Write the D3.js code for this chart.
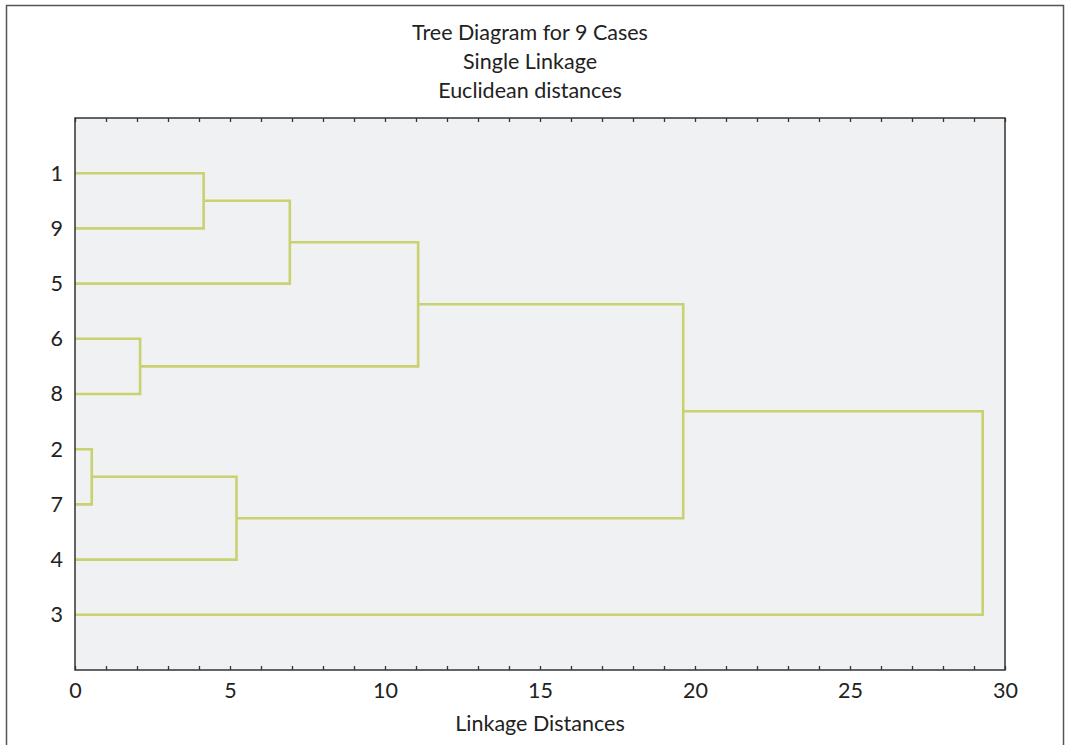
<!DOCTYPE html>
<html><head><meta charset="utf-8">
<script src="https://cdn.jsdelivr.net/npm/d3@7"></script>
<style>body{margin:0;background:#fff}svg{display:block}</style>
</head><body>
<script>
const titleLines = ["Tree Diagram for 9 Cases", "Single Linkage", "Euclidean distances"];
const xAxisTitle = "Linkage Distances";
const leafLabels = ["1", "9", "5", "6", "8", "2", "7", "4", "3"];
// merges: node ids 0..8 are leaves (display order), 9.. are merges in order
const mergeLeft   = [0, 9, 3, 10, 5, 13, 12, 15];
const mergeRight  = [1, 2, 4, 11, 6, 7, 14, 8];
const mergeHeight = [4.15, 6.93, 2.1, 11.07, 0.54, 5.21, 19.62, 29.28];
const xTicks = [0, 5, 10, 15, 20, 25, 30];

const W = 1065, H = 745;
const plot = {l: 75, r: 1005, t: 118, b: 670};
const svg = d3.select("body").append("svg").attr("width", W).attr("height", H);
const font = "Lato, 'Open Sans', sans-serif";
const fs = 21.5;

// outer frame
svg.append("rect").attr("x", 6.5).attr("y", 5.5).attr("width", 1057).attr("height", 760)
  .attr("fill", "#fff").attr("stroke", "#555").attr("stroke-width", 1.5);

const x = d3.scaleLinear().domain([0, 30]).range([plot.l, plot.r]);
const y = d3.scalePoint().domain(leafLabels).range([plot.t, plot.b]).padding(1);

svg.append("rect").attr("x", plot.l).attr("y", plot.t).attr("width", plot.r - plot.l)
  .attr("height", plot.b - plot.t).attr("fill", "#f0f1f3");

// node positions
const nodeX = [], nodeY = [];
leafLabels.forEach((d, i) => { nodeX[i] = 0; nodeY[i] = y(d); });
mergeLeft.forEach((a, k) => {
  const b = mergeRight[k], id = leafLabels.length + k;
  nodeX[id] = mergeHeight[k];
  nodeY[id] = (nodeY[a] + nodeY[b]) / 2;
});

const g = svg.append("g");
mergeLeft.forEach((a, k) => {
  const b = mergeRight[k], h = mergeHeight[k];
  const p = d3.path();
  p.moveTo(x(nodeX[a]), nodeY[a]);
  p.lineTo(x(h), nodeY[a]);
  p.lineTo(x(h), nodeY[b]);
  p.lineTo(x(nodeX[b]), nodeY[b]);
  g.append("path").attr("d", p.toString()).attr("fill", "none")
    .attr("stroke", "#c9d171").attr("stroke-width", 2.6);
});

// axes with inward ticks
const minorTicks = d3.range(0, 31, 1);
const bottomAxis = d3.axisBottom(x).tickValues(minorTicks).tickSize(-4)
  .tickFormat(d => xTicks.includes(d) ? d : "").tickPadding(13);
const ax = svg.append("g").attr("transform", `translate(0,${plot.b})`).call(bottomAxis);
ax.select(".domain").remove();
ax.selectAll("line").attr("stroke", "#333").attr("stroke-width", 1.3);
ax.selectAll("text").attr("font-family", font).attr("font-size", fs).attr("fill", "#222");

const topAxis = d3.axisTop(x).tickValues(minorTicks).tickSize(-4).tickFormat("");
const at = svg.append("g").attr("transform", `translate(0,${plot.t})`).call(topAxis);
at.select(".domain").remove();
at.selectAll("line").attr("stroke", "#333").attr("stroke-width", 1.3);

// left labels
const leftAxis = d3.axisLeft(y).tickSize(0).tickPadding(12);
const al = svg.append("g").attr("transform", `translate(${plot.l},0)`).call(leftAxis);
al.select(".domain").remove();
al.selectAll("text").attr("font-family", font).attr("font-size", fs).attr("fill", "#222");

// plot border
svg.append("rect").attr("x", plot.l).attr("y", plot.t).attr("width", plot.r - plot.l)
  .attr("height", plot.b - plot.t).attr("fill", "none").attr("stroke", "#333").attr("stroke-width", 1.5);

// title
titleLines.forEach((t, i) => {
  svg.append("text").attr("x", 530).attr("y", 32 + i * 29).attr("dy", "0.35em")
    .attr("text-anchor", "middle").attr("font-family", font).attr("font-size", fs)
    .attr("fill", "#222").text(t);
});
svg.append("text").attr("x", 540).attr("y", 723).attr("dy", "0.35em")
  .attr("text-anchor", "middle").attr("font-family", font).attr("font-size", fs)
  .attr("fill", "#222").text(xAxisTitle);
</script>
</body></html>
